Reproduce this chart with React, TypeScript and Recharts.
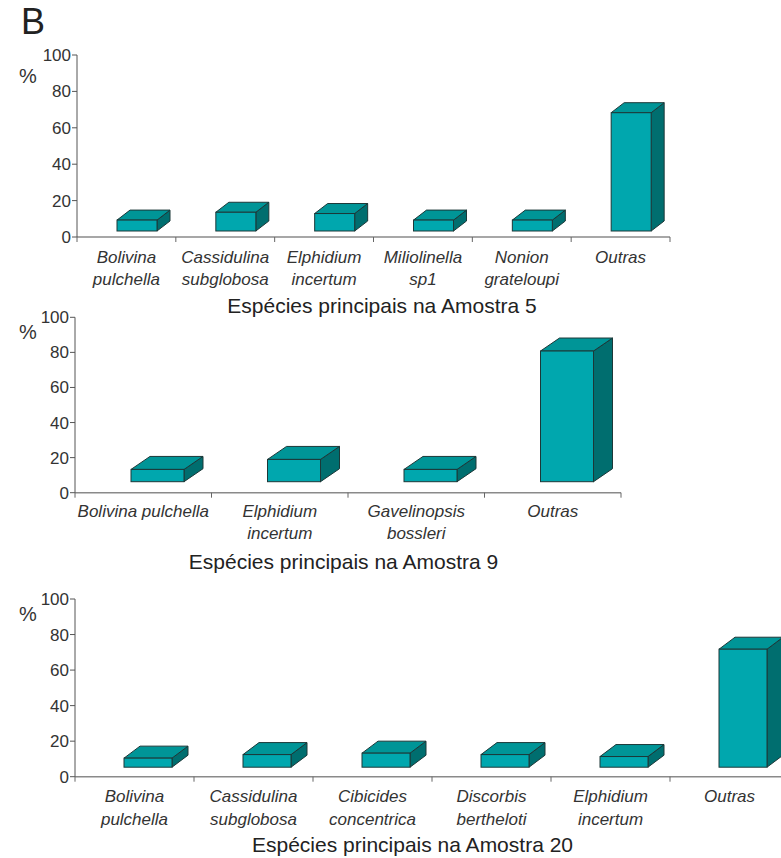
import React from 'react';
import { BarChart, Bar, XAxis, YAxis } from 'recharts';

const amostra5Species = ['Bolivina\npulchella', 'Cassidulina\nsubglobosa', 'Elphidium\nincertum', 'Miliolinella\nsp1', 'Nonion\ngrateloupi', 'Outras'];
const amostra5Values = [6, 10.3, 9.6, 6, 6, 65];

const amostra9Species = ['Bolivina pulchella', 'Elphidium\nincertum', 'Gavelinopsis\nbossleri', 'Outras'];
const amostra9Values = [7, 12.7, 7, 74.5];

const amostra20Species = ['Bolivina\npulchella', 'Cassidulina\nsubglobosa', 'Cibicides\nconcentrica', 'Discorbis\nbertheloti', 'Elphidium\nincertum', 'Outras'];
const amostra20Values = [5.1, 7.1, 7.9, 7.1, 6, 66.4];

const yTicks = [0, 20, 40, 60, 80, 100];

const FONT = '"Liberation Sans", Arial, sans-serif';
const FRONT = '#00A7AE';
const TOP = '#009597';
const SIDE = '#006E6F';
const EDGE = '#1c3838';

interface Box3D {
  shift: number;
  lift: number;
  dx: number;
  dy: number;
}

const makeShape = (b: Box3D) => (props: any) => {
  const { x, y, width, height } = props;
  if (height == null || width == null) return null;
  const fx = x + b.shift;
  const fy = y - b.lift;
  const w = width;
  const h = height;
  const top = `${fx},${fy} ${fx + b.dx},${fy - b.dy} ${fx + w + b.dx},${fy - b.dy} ${fx + w},${fy}`;
  const side = `${fx + w},${fy} ${fx + w + b.dx},${fy - b.dy} ${fx + w + b.dx},${fy + h - b.dy} ${fx + w},${fy + h}`;
  return (
    <g>
      <polygon points={side} fill={SIDE} stroke={EDGE} strokeWidth={1} strokeLinejoin="round" />
      <polygon points={top} fill={TOP} stroke={EDGE} strokeWidth={1} strokeLinejoin="round" />
      <rect x={fx} y={fy} width={w} height={h} fill={FRONT} stroke={EDGE} strokeWidth={1} />
    </g>
  );
};

const makeTick = (band: number, count: number, firstLine: number, lineGap: number) => (props: any) => {
  const { x, y, payload, index } = props;
  const lines = String(payload.value).split('\n');
  return (
    <g>
      <line x1={x - band / 2} x2={x - band / 2} y1={y} y2={y + 5} stroke="#666" />
      {index === count - 1 && <line x1={x + band / 2} x2={x + band / 2} y1={y} y2={y + 5} stroke="#666" />}
      <text x={x} y={y + firstLine} textAnchor="middle" fontFamily={FONT} fontSize={17} fontStyle="italic" fill="#333">
        {lines.map((l, i) => (
          <tspan key={i} x={x} dy={i === 0 ? 0 : lineGap}>{l}</tspan>
        ))}
      </text>
    </g>
  );
};

interface PanelProps {
  species: string[];
  values: number[];
  top: number;
  width: number;
  height: number;
  plotTop: number;
  plotBottom: number;
  plotLeft: number;
  plotRight: number;
  barSize: number;
  box: Box3D;
  firstLine: number;
  lineGap: number;
}

const Panel: React.FC<PanelProps> = (p) => {
  const data = p.species.map((name, i) => ({ name, value: p.values[i] }));
  const band = (p.plotRight - p.plotLeft) / p.species.length;
  const xAxisHeight = 50;
  return (
    <div style={{ position: 'absolute', left: 0, top: p.top }}>
      <BarChart
        width={p.width}
        height={p.height}
        data={data}
        margin={{ top: p.plotTop, right: p.width - p.plotRight, left: 0, bottom: p.height - p.plotBottom - xAxisHeight }}
      >
        <XAxis
          dataKey="name"
          interval={0}
          height={xAxisHeight}
          tickSize={0}
          tickMargin={0}
          tickLine={false}
          axisLine={{ stroke: '#8a8a8a', strokeWidth: 1.5 }}
          tick={makeTick(band, p.species.length, p.firstLine, p.lineGap)}
        />
        <YAxis
          width={p.plotLeft}
          domain={[0, 100]}
          ticks={yTicks}
          interval={0}
          tickSize={5}
          tickMargin={1}
          axisLine={{ stroke: '#555' }}
          tickLine={{ stroke: '#555' }}
          tick={{ fontFamily: FONT, fontSize: 17, fill: '#333' }}
        />
        <Bar dataKey="value" barSize={p.barSize} isAnimationActive={false} shape={makeShape(p.box)} />
      </BarChart>
    </div>
  );
};

const App: React.FC = () => {
  return (
    <div style={{ position: 'absolute', left: 0, top: 0, width: 781, height: 858, overflow: 'hidden', background: '#fff' }}>
      <Panel
        species={amostra5Species}
        values={amostra5Values}
        top={0}
        width={781}
        height={290}
        plotTop={55}
        plotBottom={237}
        plotLeft={77}
        plotRight={670}
        barSize={40}
        box={{ shift: 11, lift: 6, dx: 13, dy: 10 }}
        firstLine={26}
        lineGap={22}
      />
      <Panel
        species={amostra9Species}
        values={amostra9Values}
        top={290}
        width={781}
        height={260}
        plotTop={27.3}
        plotBottom={202.7}
        plotLeft={75}
        plotRight={621}
        barSize={53}
        box={{ shift: 14, lift: 11, dx: 19, dy: 13 }}
        firstLine={24.6}
        lineGap={22}
      />
      <Panel
        species={amostra20Species}
        values={amostra20Values}
        top={570}
        width={800}
        height={288}
        plotTop={29}
        plotBottom={206.7}
        plotLeft={75}
        plotRight={789}
        barSize={48}
        box={{ shift: 13, lift: 9.5, dx: 16, dy: 12 }}
        firstLine={25}
        lineGap={23}
      />
      <svg width={781} height={858} style={{ position: 'absolute', left: 0, top: 0, pointerEvents: 'none' }}>
        <text x={21} y={34} fontFamily={FONT} fontSize={36} fill="#222">B</text>
        <text x={19} y={83} fontFamily={FONT} fontSize={20} fill="#333">%</text>
        <text x={19} y={339} fontFamily={FONT} fontSize={20} fill="#333">%</text>
        <text x={19} y={621} fontFamily={FONT} fontSize={20} fill="#333">%</text>
        <text x={382} y={313} textAnchor="middle" fontFamily={FONT} fontSize={21} fill="#222">Espécies principais na Amostra 5</text>
        <text x={343.5} y={569} textAnchor="middle" fontFamily={FONT} fontSize={21} fill="#222">Espécies principais na Amostra 9</text>
        <text x={412.5} y={851.5} textAnchor="middle" fontFamily={FONT} fontSize={21} fill="#222">Espécies principais na Amostra 20</text>
      </svg>
    </div>
  );
};

export default App;
